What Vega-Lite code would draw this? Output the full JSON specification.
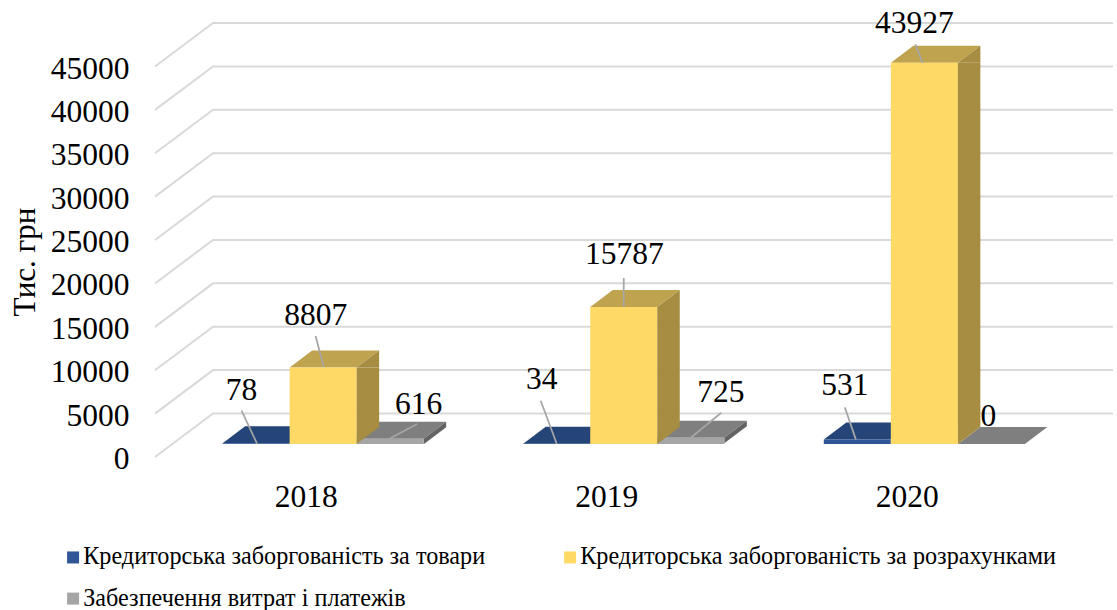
{"$schema":"https://vega.github.io/schema/vega-lite/v6.json","width":958,"height":390.5,"autosize":{"type":"none"},"padding":{"left":155,"top":66.5,"right":4,"bottom":153},"background":"white","config":{"view":{"stroke":null},"font":"Liberation Serif"},"datasets":{"bars":[{"year":"2018","series":"Кредиторська заборгованість за товари","value":78},{"year":"2018","series":"Кредиторська заборгованість за розрахунками","value":8807},{"year":"2018","series":"Забезпечення витрат і платежів","value":616},{"year":"2019","series":"Кредиторська заборгованість за товари","value":34},{"year":"2019","series":"Кредиторська заборгованість за розрахунками","value":15787},{"year":"2019","series":"Забезпечення витрат і платежів","value":725},{"year":"2020","series":"Кредиторська заборгованість за товари","value":531},{"year":"2020","series":"Кредиторська заборгованість за розрахунками","value":43927},{"year":"2020","series":"Забезпечення витрат і платежів","value":0}],"ticks":[{"tick":0},{"tick":5000},{"tick":10000},{"tick":15000},{"tick":20000},{"tick":25000},{"tick":30000},{"tick":35000},{"tick":40000},{"tick":45000}]},"layer":[{"data":{"name":"ticks"},"mark":{"type":"point","shape":"M-479 0L-421 -43.5L479 -43.5","size":4,"filled":false,"stroke":"#D9D9D9","strokeWidth":2,"opacity":1},"encoding":{"y":{"field":"tick","type":"quantitative","scale":{"domain":[0,45000],"nice":false},"axis":{"values":[0,5000,10000,15000,20000,25000,30000,35000,40000,45000],"format":"d","domain":false,"ticks":false,"grid":false,"labelPadding":26,"labelOffset":2.5,"labelFontSize":31.5,"labelColor":"#000000","labelFont":"Liberation Serif","title":"Тис. грн","titleFontSize":31,"titleFontWeight":"normal","titleColor":"#000000","titleFont":"Liberation Serif","titleX":-114,"titleY":195}}}},{"data":{"name":"bars"},"encoding":{"x":{"field":"year","type":"nominal","scale":{"range":[18,919.5],"paddingInner":0.331,"paddingOuter":0.165},"axis":{"domain":false,"ticks":false,"labelAngle":0,"labelFontSize":31.5,"labelColor":"#000000","labelFont":"Liberation Serif","labelOffset":-17,"labelPadding":24,"title":null}},"xOffset":{"field":"series","type":"nominal","scale":{"domain":["Кредиторська заборгованість за товари","Кредиторська заборгованість за розрахунками","Забезпечення витрат і платежів"]}},"y":{"field":"value","type":"quantitative","stack":null,"scale":{"domain":[0,45000],"nice":false},"axis":{"values":[0,5000,10000,15000,20000,25000,30000,35000,40000,45000],"format":"d","domain":false,"ticks":false,"grid":false,"labelPadding":26,"labelOffset":2.5,"labelFontSize":31.5,"labelColor":"#000000","labelFont":"Liberation Serif","title":"Тис. грн","titleFontSize":31,"titleFontWeight":"normal","titleColor":"#000000","titleFont":"Liberation Serif","titleX":-114,"titleY":195}}},"layer":[{"transform":[{"filter":{"field":"series","equal":"Кредиторська заборгованість за товари"}}],"mark":{"type":"point","shape":"M-33.5 0L33.5 0L56 -17L-11 -17Z","size":4,"filled":true,"opacity":1,"fill":"#254478","yOffset":-13}},{"transform":[{"filter":{"field":"series","equal":"Кредиторська заборгованість за розрахунками"}}],"mark":{"type":"point","shape":"M-33.5 0L33.5 0L56 -17L-11 -17Z","size":4,"filled":true,"opacity":1,"fill":"#BFA34F","yOffset":-13}},{"transform":[{"filter":{"field":"series","equal":"Забезпечення витрат і платежів"}}],"mark":{"type":"point","shape":"M-33.5 0L33.5 0L56 -17L-11 -17Z","size":4,"filled":true,"opacity":1,"fill":"#7F7F7F","yOffset":-13}},{"transform":[{"filter":"datum.series=='Забезпечення витрат і платежів' && datum.value>0"}],"mark":{"type":"point","shape":"M33.5 0L56 -17L56 -11.5L33.5 5.5Z","size":4,"filled":true,"opacity":1,"fill":"#636363","yOffset":-13}},{"mark":{"type":"bar","yOffset":-13,"y2Offset":-13},"encoding":{"y2":{"datum":0},"color":{"field":"series","type":"nominal","scale":{"domain":["Кредиторська заборгованість за товари","Забезпечення витрат і платежів","Кредиторська заборгованість за розрахунками"],"range":["#2F5597","#A5A5A5","#FFD966"]},"legend":{"orient":"none","legendX":-94,"legendY":478.5,"title":null,"columns":2,"symbolType":"square","symbolSize":144,"symbolStrokeWidth":0,"labelFont":"Liberation Serif","labelFontSize":24.2,"labelColor":"#000000","labelLimit":1000,"columnPadding":72,"rowPadding":16.5,"labelOffset":-2}}}},{"transform":[{"filter":"datum.series=='Кредиторська заборгованість за розрахунками'"}],"layer":[{"mark":{"type":"point","shape":"M33.5 0L56 -17L56 0Z","size":4,"filled":true,"opacity":1,"fill":"#A68D42","yOffset":-13}},{"mark":{"type":"bar","width":22.5,"xOffset":44.75,"yOffset":-13,"y2Offset":-30,"fill":"#A68D42"},"encoding":{"xOffset":null,"y2":{"datum":0}}},{"mark":{"type":"point","shape":"M33.5 0L56 -17L33.5 -17Z","size":4,"filled":true,"opacity":1,"fill":"#A68D42","yOffset":-13},"encoding":{"y":{"datum":0,"type":"quantitative"}}}]},{"transform":[{"filter":{"field":"value","equal":78}}],"layer":[{"mark":{"type":"point","shape":"M1 0.5L-14.5 -32.6","size":4,"filled":false,"stroke":"#A6A6A6","strokeWidth":1.75,"opacity":1,"yOffset":-13}},{"mark":{"type":"text","fontSize":31.5,"font":"Liberation Serif","color":"#000000","dx":-14.5,"dy":-65},"encoding":{"text":{"field":"value"}}}]},{"transform":[{"filter":{"field":"value","equal":616}}],"layer":[{"mark":{"type":"point","shape":"M0 -0.5L27 -14.6","size":4,"filled":false,"stroke":"#A6A6A6","strokeWidth":1.75,"opacity":1,"yOffset":-13}},{"mark":{"type":"text","fontSize":31.5,"font":"Liberation Serif","color":"#000000","dx":28.5,"dy":-46.5},"encoding":{"text":{"field":"value"}}}]},{"transform":[{"filter":{"field":"value","equal":8807}}],"layer":[{"mark":{"type":"point","shape":"M0.5 -0.5L-7.5 -31.6","size":4,"filled":false,"stroke":"#A6A6A6","strokeWidth":1.75,"opacity":1,"yOffset":-13}},{"mark":{"type":"text","fontSize":31.5,"font":"Liberation Serif","color":"#000000","dx":-7.5,"dy":-64.6},"encoding":{"text":{"field":"value"}}}]},{"transform":[{"filter":{"field":"value","equal":34}}],"layer":[{"mark":{"type":"point","shape":"M0 0L-16 -43","size":4,"filled":false,"stroke":"#A6A6A6","strokeWidth":1.75,"opacity":1,"yOffset":-13}},{"mark":{"type":"text","fontSize":31.5,"font":"Liberation Serif","color":"#000000","dx":-15,"dy":-76.7},"encoding":{"text":{"field":"value"}}}]},{"transform":[{"filter":{"field":"value","equal":15787}}],"layer":[{"mark":{"type":"point","shape":"M0 0L0 -29","size":4,"filled":false,"stroke":"#A6A6A6","strokeWidth":1.75,"opacity":1,"yOffset":-13}},{"mark":{"type":"text","fontSize":31.5,"font":"Liberation Serif","color":"#000000","dx":0.5,"dy":-65},"encoding":{"text":{"field":"value"}}}]},{"transform":[{"filter":{"field":"value","equal":725}}],"layer":[{"mark":{"type":"point","shape":"M0 0L30.5 -25","size":4,"filled":false,"stroke":"#A6A6A6","strokeWidth":1.75,"opacity":1,"yOffset":-13}},{"mark":{"type":"text","fontSize":31.5,"font":"Liberation Serif","color":"#000000","dx":30,"dy":-57.7},"encoding":{"text":{"field":"value"}}}]},{"transform":[{"filter":{"field":"value","equal":531}}],"layer":[{"mark":{"type":"point","shape":"M-1.5 0L-12.5 -32","size":4,"filled":false,"stroke":"#A6A6A6","strokeWidth":1.75,"opacity":1,"yOffset":-13}},{"mark":{"type":"text","fontSize":31.5,"font":"Liberation Serif","color":"#000000","dx":-12.5,"dy":-66.4},"encoding":{"text":{"field":"value"}}}]},{"transform":[{"filter":{"field":"value","equal":43927}}],"layer":[{"mark":{"type":"point","shape":"M-1.7 0L-9 -18.5","size":4,"filled":false,"stroke":"#A6A6A6","strokeWidth":1.75,"opacity":1,"yOffset":-13}},{"mark":{"type":"text","fontSize":31.5,"font":"Liberation Serif","color":"#000000","dx":-10,"dy":-51.8},"encoding":{"text":{"field":"value"}}}]},{"transform":[{"filter":"datum.value===0"}],"mark":{"type":"text","fontSize":31.5,"font":"Liberation Serif","color":"#000000","dx":-3,"dy":-40},"encoding":{"text":{"field":"value"}}}]}]}
